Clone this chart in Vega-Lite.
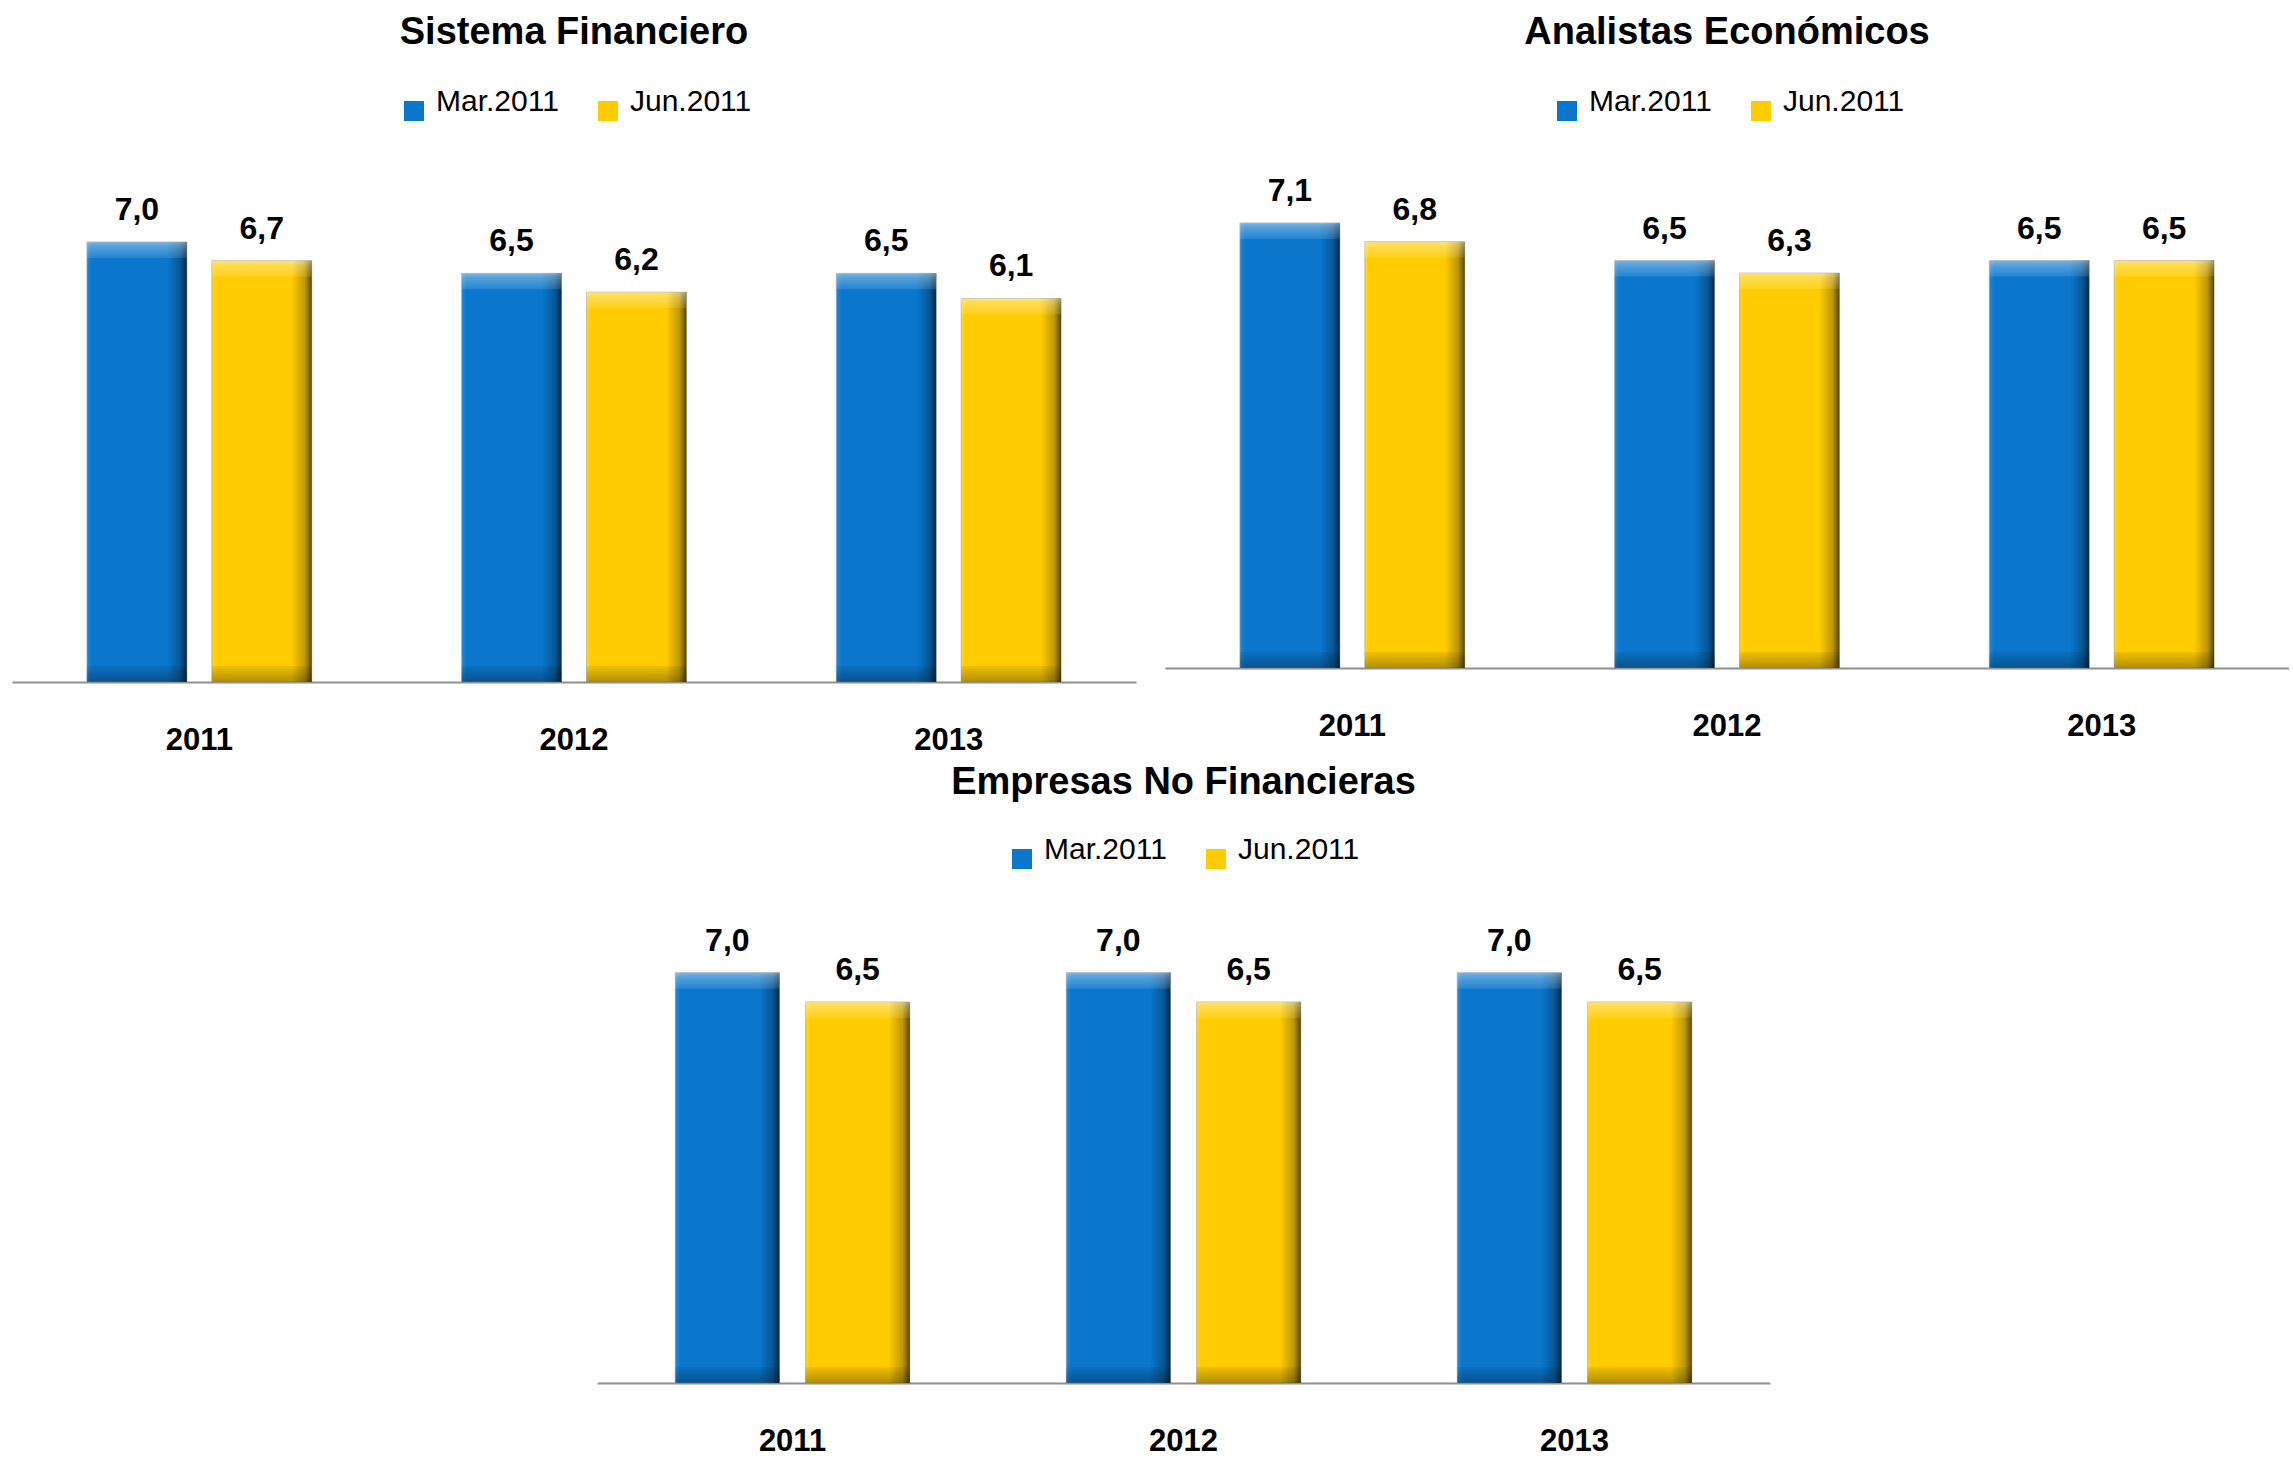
{
  "$schema": "https://vega.github.io/schema/vega-lite/v6.json",
  "background": "white",
  "padding": {"left": 12, "top": 14, "right": 0, "bottom": 0},
  "datasets": {
    "expectativas": [
      {"encuesta": "Sistema Financiero", "anio": "2011", "fecha": "Mar.2011", "valor": 7.0},
      {"encuesta": "Sistema Financiero", "anio": "2011", "fecha": "Jun.2011", "valor": 6.7},
      {"encuesta": "Sistema Financiero", "anio": "2012", "fecha": "Mar.2011", "valor": 6.5},
      {"encuesta": "Sistema Financiero", "anio": "2012", "fecha": "Jun.2011", "valor": 6.2},
      {"encuesta": "Sistema Financiero", "anio": "2013", "fecha": "Mar.2011", "valor": 6.5},
      {"encuesta": "Sistema Financiero", "anio": "2013", "fecha": "Jun.2011", "valor": 6.1},
      {"encuesta": "Analistas Económicos", "anio": "2011", "fecha": "Mar.2011", "valor": 7.1},
      {"encuesta": "Analistas Económicos", "anio": "2011", "fecha": "Jun.2011", "valor": 6.8},
      {"encuesta": "Analistas Económicos", "anio": "2012", "fecha": "Mar.2011", "valor": 6.5},
      {"encuesta": "Analistas Económicos", "anio": "2012", "fecha": "Jun.2011", "valor": 6.3},
      {"encuesta": "Analistas Económicos", "anio": "2013", "fecha": "Mar.2011", "valor": 6.5},
      {"encuesta": "Analistas Económicos", "anio": "2013", "fecha": "Jun.2011", "valor": 6.5},
      {"encuesta": "Empresas No Financieras", "anio": "2011", "fecha": "Mar.2011", "valor": 7.0},
      {"encuesta": "Empresas No Financieras", "anio": "2011", "fecha": "Jun.2011", "valor": 6.5},
      {"encuesta": "Empresas No Financieras", "anio": "2012", "fecha": "Mar.2011", "valor": 7.0},
      {"encuesta": "Empresas No Financieras", "anio": "2012", "fecha": "Jun.2011", "valor": 6.5},
      {"encuesta": "Empresas No Financieras", "anio": "2013", "fecha": "Mar.2011", "valor": 7.0},
      {"encuesta": "Empresas No Financieras", "anio": "2013", "fecha": "Jun.2011", "valor": 6.5}
    ]
  },
  "data": {"name": "expectativas"},
  "config": {
    "view": {"stroke": null},
    "locale": {"number": {"decimal": ",", "thousands": ".", "grouping": [3], "currency": ["", " €"]}},
    "title": {"font": "Liberation Sans", "fontSize": 38, "fontWeight": "bold", "color": "black", "anchor": "middle", "offset": 44},
    "axisX": {
      "title": null, "labelAngle": 0, "labelFont": "Liberation Sans", "labelFontWeight": "bold",
      "labelFontSize": 31, "labelColor": "black", "ticks": false, "tickSize": 0, "labelPadding": 67,
      "labelBaseline": "alphabetic", "domainColor": "#8f8f8f", "domainWidth": 2, "grid": false
    },
    "legend": {
      "orient": "none", "direction": "horizontal", "title": null, "symbolType": "square", "symbolSize": 400,
      "symbolStrokeWidth": 0, "labelFont": "Liberation Sans", "labelFontSize": 30, "labelColor": "black",
      "labelOffset": 7, "columnPadding": 34, "padding": 0, "labelBaseline": "alphabetic"
    }
  },
  "resolve": {"scale": {"color": "independent", "xOffset": "independent"}, "legend": {"color": "independent"}},
  "spacing": 9,
  "vconcat": [
    {
      "spacing": 29,
      "resolve": {"scale": {"color": "independent", "xOffset": "independent"}, "legend": {"color": "independent"}},
      "hconcat": [
        {
          "width": 1124, "height": 503,
          "title": "Sistema Financiero",
          "transform": [{"filter": "datum.encuesta === 'Sistema Financiero'"}],
          "encoding": {
            "x": {"field": "anio", "type": "nominal", "scale": {"paddingInner": 0, "paddingOuter": 0}},
            "xOffset": {"field": "fecha", "type": "nominal", "sort": ["Mar.2011", "Jun.2011"], "scale": {"paddingInner": 0.2, "paddingOuter": 0.6}},
            "y": {"field": "valor", "type": "quantitative", "scale": {"domain": [0, 8]}, "axis": null}
          },
          "layer": [
            {"mark": {"type": "bar", "stroke": "#a0a0a0", "strokeWidth": 1, "strokeOpacity": 0.6},
             "encoding": {"color": {"field": "fecha", "type": "nominal", "scale": {"domain": ["Mar.2011", "Jun.2011"], "range": ["#0A77CC", "#FFCC00"]}, "legend": {"legendX": 387, "legendY": -83}}}},
            {"mark": {"type": "bar", "color": {"gradient": "linear", "x1": 0, "y1": 0, "x2": 1, "y2": 0, "stops": [{"offset": 0, "color": "rgba(255,255,255,0.12)"}, {"offset": 0.05, "color": "rgba(255,255,255,0)"}, {"offset": 0.8, "color": "rgba(0,0,0,0)"}, {"offset": 0.93, "color": "rgba(0,0,0,0.25)"}, {"offset": 1, "color": "rgba(0,0,0,0.65)"}]}}},
            {"mark": {"type": "bar", "y2Offset": 16, "color": {"gradient": "linear", "x1": 0, "y1": 0, "x2": 0, "y2": 1, "stops": [{"offset": 0, "color": "rgba(255,255,255,0.45)"}, {"offset": 0.3, "color": "rgba(255,255,255,0.3)"}, {"offset": 1, "color": "rgba(255,255,255,0.1)"}]}},
             "encoding": {"y2": {"field": "valor"}}},
            {"mark": {"type": "bar", "yOffset": -16, "color": {"gradient": "linear", "x1": 0, "y1": 0, "x2": 0, "y2": 1, "stops": [{"offset": 0, "color": "rgba(0,0,0,0.06)"}, {"offset": 1, "color": "rgba(0,0,0,0.3)"}]}},
             "encoding": {"y": {"datum": 0}, "y2": {"datum": 0}}},
            {"mark": {"type": "text", "baseline": "alphabetic", "dy": -22, "font": "Liberation Sans", "fontWeight": "bold", "fontSize": 32, "color": "black"},
             "encoding": {"text": {"field": "valor", "type": "quantitative", "format": ".1f"}}}
          ]
        },
        {
          "width": 1124, "height": 489,
          "title": "Analistas Económicos",
          "transform": [{"filter": "datum.encuesta === 'Analistas Económicos'"}],
          "encoding": {
            "x": {"field": "anio", "type": "nominal", "scale": {"paddingInner": 0, "paddingOuter": 0}},
            "xOffset": {"field": "fecha", "type": "nominal", "sort": ["Mar.2011", "Jun.2011"], "scale": {"paddingInner": 0.2, "paddingOuter": 0.6}},
            "y": {"field": "valor", "type": "quantitative", "scale": {"domain": [0, 7.8]}, "axis": null}
          },
          "layer": [
            {"mark": {"type": "bar", "stroke": "#a0a0a0", "strokeWidth": 1, "strokeOpacity": 0.6},
             "encoding": {"color": {"field": "fecha", "type": "nominal", "scale": {"domain": ["Mar.2011", "Jun.2011"], "range": ["#0A77CC", "#FFCC00"]}, "legend": {"legendX": 387, "legendY": -83}}}},
            {"mark": {"type": "bar", "color": {"gradient": "linear", "x1": 0, "y1": 0, "x2": 1, "y2": 0, "stops": [{"offset": 0, "color": "rgba(255,255,255,0.12)"}, {"offset": 0.05, "color": "rgba(255,255,255,0)"}, {"offset": 0.8, "color": "rgba(0,0,0,0)"}, {"offset": 0.93, "color": "rgba(0,0,0,0.25)"}, {"offset": 1, "color": "rgba(0,0,0,0.65)"}]}}},
            {"mark": {"type": "bar", "y2Offset": 16, "color": {"gradient": "linear", "x1": 0, "y1": 0, "x2": 0, "y2": 1, "stops": [{"offset": 0, "color": "rgba(255,255,255,0.45)"}, {"offset": 0.3, "color": "rgba(255,255,255,0.3)"}, {"offset": 1, "color": "rgba(255,255,255,0.1)"}]}},
             "encoding": {"y2": {"field": "valor"}}},
            {"mark": {"type": "bar", "yOffset": -16, "color": {"gradient": "linear", "x1": 0, "y1": 0, "x2": 0, "y2": 1, "stops": [{"offset": 0, "color": "rgba(0,0,0,0.06)"}, {"offset": 1, "color": "rgba(0,0,0,0.3)"}]}},
             "encoding": {"y": {"datum": 0}, "y2": {"datum": 0}}},
            {"mark": {"type": "text", "baseline": "alphabetic", "dy": -22, "font": "Liberation Sans", "fontWeight": "bold", "fontSize": 32, "color": "black"},
             "encoding": {"text": {"field": "valor", "type": "quantitative", "format": ".1f"}}}
          ]
        }
      ]
    },
    {
      "spacing": 20,
      "resolve": {"scale": {"color": "independent", "xOffset": "independent"}, "legend": {"color": "independent"}},
      "hconcat": [
        {"width": 565, "height": 10, "data": {"values": []}, "mark": "point"},
        {
          "width": 1173, "height": 469,
          "title": {"text": "Empresas No Financieras", "offset": 42},
          "transform": [{"filter": "datum.encuesta === 'Empresas No Financieras'"}],
          "encoding": {
            "x": {"field": "anio", "type": "nominal", "scale": {"paddingInner": 0, "paddingOuter": 0}},
            "xOffset": {"field": "fecha", "type": "nominal", "sort": ["Mar.2011", "Jun.2011"], "scale": {"paddingInner": 0.2, "paddingOuter": 0.6}},
            "y": {"field": "valor", "type": "quantitative", "scale": {"domain": [0, 8]}, "axis": null}
          },
          "layer": [
            {"mark": {"type": "bar", "stroke": "#a0a0a0", "strokeWidth": 1, "strokeOpacity": 0.6},
             "encoding": {"color": {"field": "fecha", "type": "nominal", "scale": {"domain": ["Mar.2011", "Jun.2011"], "range": ["#0A77CC", "#FFCC00"]}, "legend": {"legendX": 410, "legendY": -70}}}},
            {"mark": {"type": "bar", "color": {"gradient": "linear", "x1": 0, "y1": 0, "x2": 1, "y2": 0, "stops": [{"offset": 0, "color": "rgba(255,255,255,0.12)"}, {"offset": 0.05, "color": "rgba(255,255,255,0)"}, {"offset": 0.8, "color": "rgba(0,0,0,0)"}, {"offset": 0.93, "color": "rgba(0,0,0,0.25)"}, {"offset": 1, "color": "rgba(0,0,0,0.65)"}]}}},
            {"mark": {"type": "bar", "y2Offset": 16, "color": {"gradient": "linear", "x1": 0, "y1": 0, "x2": 0, "y2": 1, "stops": [{"offset": 0, "color": "rgba(255,255,255,0.45)"}, {"offset": 0.3, "color": "rgba(255,255,255,0.3)"}, {"offset": 1, "color": "rgba(255,255,255,0.1)"}]}},
             "encoding": {"y2": {"field": "valor"}}},
            {"mark": {"type": "bar", "yOffset": -16, "color": {"gradient": "linear", "x1": 0, "y1": 0, "x2": 0, "y2": 1, "stops": [{"offset": 0, "color": "rgba(0,0,0,0.06)"}, {"offset": 1, "color": "rgba(0,0,0,0.3)"}]}},
             "encoding": {"y": {"datum": 0}, "y2": {"datum": 0}}},
            {"mark": {"type": "text", "baseline": "alphabetic", "dy": -22, "font": "Liberation Sans", "fontWeight": "bold", "fontSize": 32, "color": "black"},
             "encoding": {"text": {"field": "valor", "type": "quantitative", "format": ".1f"}}}
          ]
        }
      ]
    }
  ]
}
